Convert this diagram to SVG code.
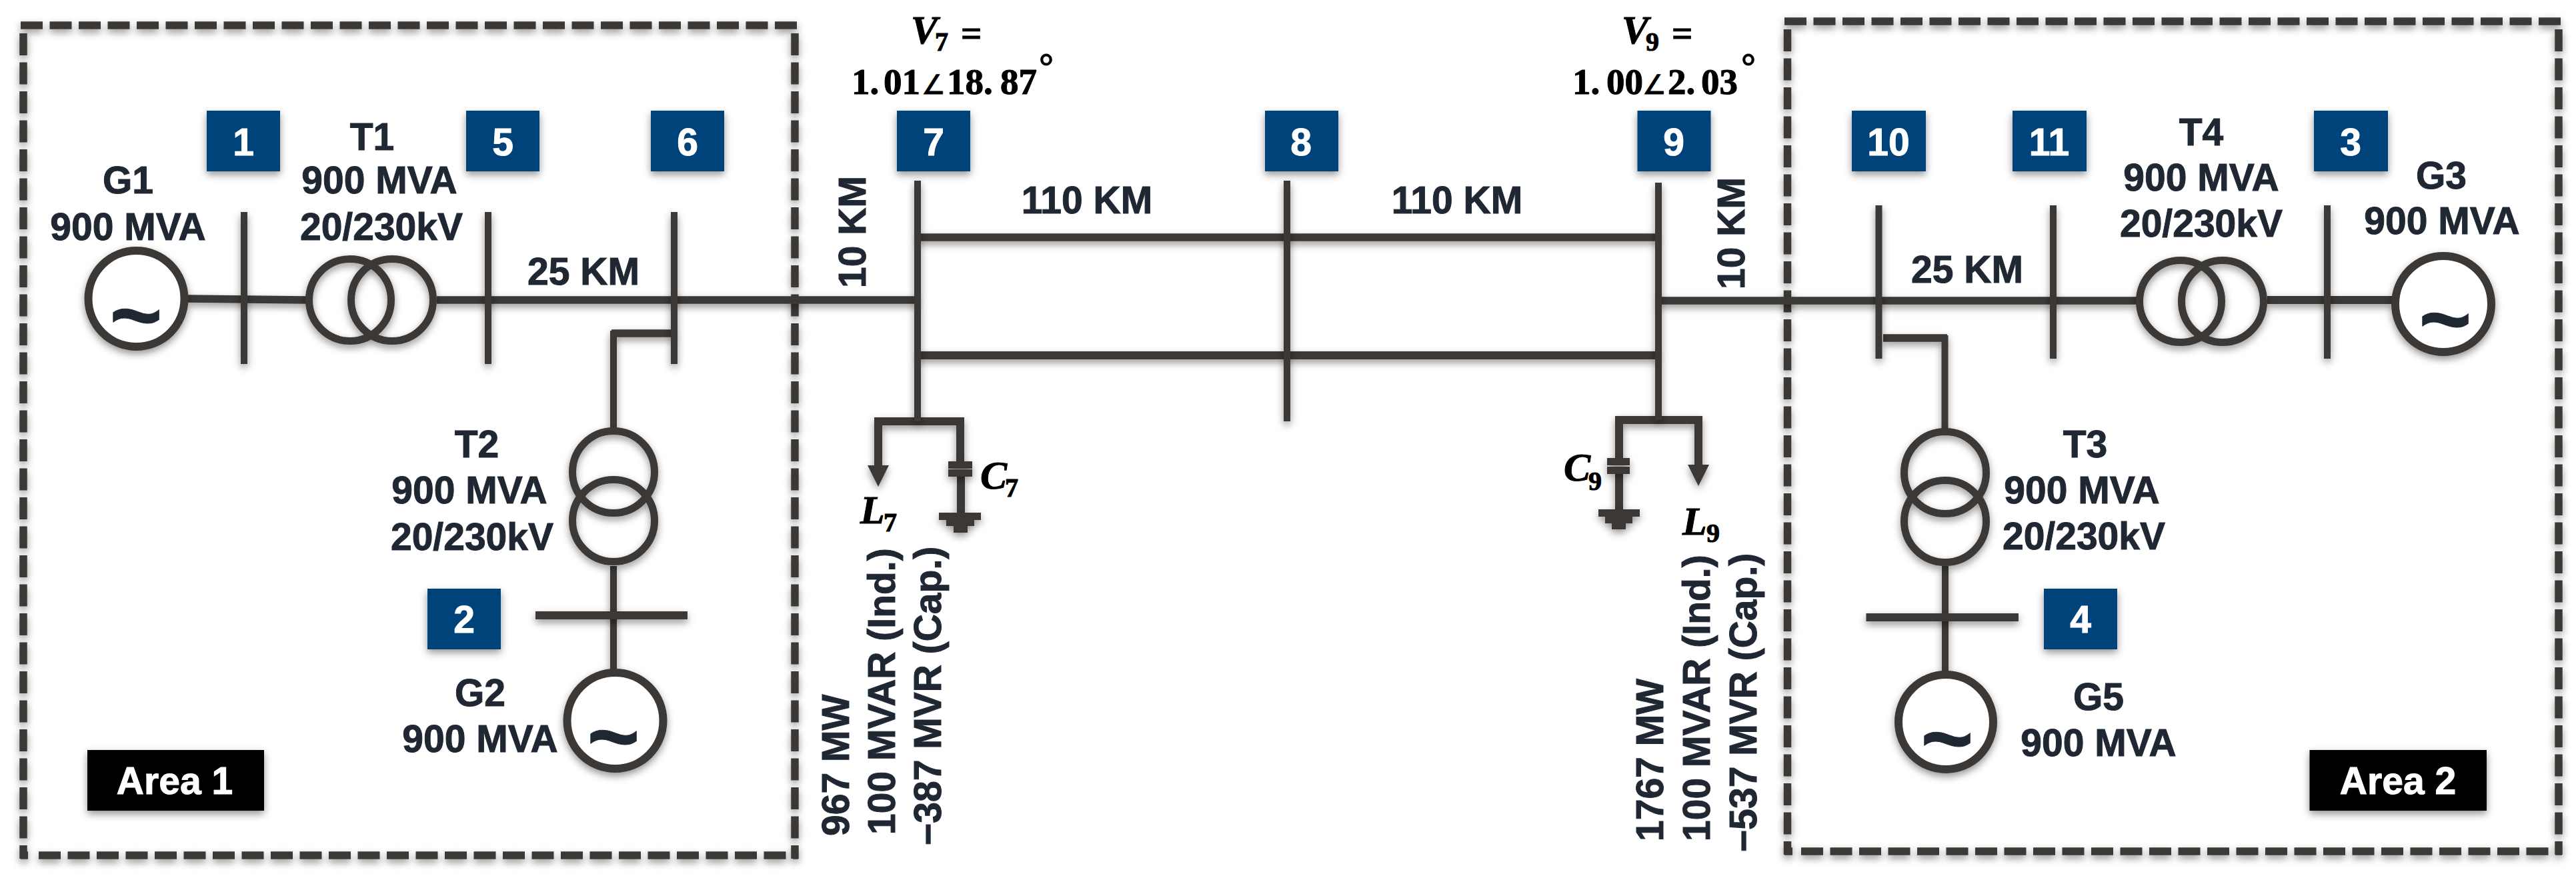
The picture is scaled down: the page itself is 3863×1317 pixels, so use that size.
<svg xmlns="http://www.w3.org/2000/svg" width="3863" height="1317" viewBox="0 0 3863 1317">
<style>
.s{filter:url(#sh)}
.w10{stroke:#3a3836;stroke-width:11.500;fill:none}
.w9{stroke:#3a3836;stroke-width:10;fill:none}
.w11{stroke:#3a3836;stroke-width:12;fill:none}
.ring{stroke:#3a3836;stroke-width:11;fill:none}
.gen{stroke:#3a3836;stroke-width:12;fill:#fff}
.d{stroke:#3a3836;stroke-width:11.500;fill:none;stroke-dasharray:33 10.5}
.p{fill:#3a3836}
.b{fill:#02437a}
.k{fill:#000}
text{font-family:"Liberation Sans",Arial,sans-serif;font-weight:700;font-size:57px;fill:#1f2733;stroke:#1f2733;stroke-width:1}
.c{text-anchor:middle}
text.wt{fill:#fff;stroke:#fff}
.tl{font-size:135px}
text.m{font-family:"Liberation Serif","Times New Roman",serif;fill:#000;stroke:#000;font-size:55px}
.i{font-style:italic;font-size:60px}
.sub{font-size:40px}
.ang{font-family:"DejaVu Sans",sans-serif;font-weight:400;font-size:40px}
.deg{font-size:55px}
</style>
<defs>
<filter id="sh" filterUnits="userSpaceOnUse" x="0" y="0" width="3863" height="1317">
<feDropShadow dx="0" dy="5" stdDeviation="6" flood-color="#000" flood-opacity="0.42"/>
</filter>
<marker id="ah" markerUnits="userSpaceOnUse" markerWidth="34" markerHeight="32" refX="0" refY="16" orient="auto">
<path d="M0 0L32 16L0 32Z" fill="#3a3836"/>
</marker>
</defs>
<rect width="3863" height="1317" fill="#fff"/>

<g id="area-1-border" class="s">
<line class="d" x1="31" y1="38" x2="1197" y2="38"/>
<line class="d" x1="35" y1="50" x2="35" y2="1288"/>
<line class="d" x1="1192" y1="50" x2="1192" y2="1288"/>
<line class="d" x1="58" y1="1283" x2="1197" y2="1283"/>
<line class="w10" x1="31" y1="1283" x2="42" y2="1283"/>
</g>
<g id="area-2-border" class="s">
<line class="d" x1="2676" y1="32" x2="3842" y2="32"/>
<line class="d" x1="2680.5" y1="44" x2="2680.5" y2="1282"/>
<line class="d" x1="3837" y1="44" x2="3837" y2="1282"/>
<line class="d" x1="2701" y1="1277" x2="3842" y2="1277"/>
<line class="w10" x1="2676" y1="1277" x2="2688" y2="1277"/>
</g>

<g id="connectors" class="s">
<line class="w10" x1="282" y1="448" x2="460" y2="450"/>
<line class="w10" x1="655" y1="450" x2="1376" y2="450"/>
<line class="w10" x1="1011" y1="500" x2="917" y2="500"/>
<line class="w9" x1="920" y1="496" x2="920" y2="642"/>
<line class="w9" x1="920" y1="849" x2="920" y2="1004"/>
<line class="w10" x1="1376" y1="356" x2="2487" y2="356"/>
<line class="w11" x1="1376" y1="533" x2="2487" y2="533"/>
<line class="w10" x1="2487" y1="451" x2="3204" y2="451"/>
<line class="w11" x1="3400" y1="450" x2="3588" y2="450"/>
<line class="w10" x1="2824" y1="507" x2="2920" y2="507"/>
<line class="w9" x1="2916.5" y1="503" x2="2916.5" y2="643"/>
<line class="w9" x1="2917" y1="849" x2="2917" y2="1007"/>
<path class="w11" d="M1317 626V632H1446M1317 632V698" marker-end="url(#ah)"/>
<line class="w11" x1="1440" y1="632" x2="1440" y2="692"/>
<line class="w11" x1="1441" y1="715" x2="1441" y2="769"/>
<path class="w11" d="M2422 630H2553M2547 630V697" marker-end="url(#ah)"/>
<line class="w11" x1="2428" y1="624" x2="2428" y2="687"/>
<line class="w11" x1="2428" y1="711" x2="2428" y2="764"/>
</g>

<g id="bus-1" class="s"><line class="w9" x1="366" y1="318" x2="366" y2="546"/></g>
<g id="bus-5" class="s"><line class="w9" x1="732" y1="318" x2="732" y2="546"/></g>
<g id="bus-6" class="s"><line class="w9" x1="1011" y1="318" x2="1011" y2="546"/></g>
<g id="bus-7" class="s"><line class="w9" x1="1376" y1="271" x2="1376" y2="632"/></g>
<g id="bus-8" class="s"><line class="w9" x1="1930" y1="271" x2="1930" y2="632"/></g>
<g id="bus-9" class="s"><line class="w9" x1="2487" y1="274" x2="2487" y2="630"/></g>
<g id="bus-10" class="s"><line class="w9" x1="2817.5" y1="308" x2="2817.5" y2="538"/></g>
<g id="bus-11" class="s"><line class="w9" x1="3079" y1="308" x2="3079" y2="538"/></g>
<g id="bus-3" class="s"><line class="w9" x1="3490" y1="308" x2="3490" y2="538"/></g>
<g id="bus-2" class="s"><line class="w11" x1="803" y1="923" x2="1031" y2="923"/></g>
<g id="bus-4" class="s"><line class="w11" x1="2798.5" y1="926" x2="3027" y2="926"/></g>

<g id="g1"><circle class="gen s" cx="204.5" cy="448" r="72"/><text class="tl c" x="204" y="519">~</text>
<text class="c" x="192" y="290">G1</text><text class="c" x="192" y="360">900 MVA</text></g>
<g id="t1" class="s"><circle class="ring" cx="525" cy="450" r="61.500"/><circle class="ring" cx="588" cy="450" r="61.500"/></g>
<g id="t1-label"><text class="c" x="558" y="225">T1</text><text class="c" x="569" y="290">900 MVA</text><text class="c" x="572" y="360">20/230kV</text></g>
<g id="t2" class="s"><circle class="ring" cx="920" cy="708" r="61.500"/><circle class="ring" cx="920" cy="781" r="61.500"/></g>
<g id="t2-label"><text class="c" x="715" y="686">T2</text><text class="c" x="704" y="755">900 MVA</text><text class="c" x="708" y="825">20/230kV</text></g>
<g id="g2"><circle class="gen s" cx="922.5" cy="1081" r="72"/><text class="tl c" x="920" y="1151">~</text>
<text class="c" x="720" y="1059">G2</text><text class="c" x="720" y="1128">900 MVA</text></g>
<g id="t4" class="s"><circle class="ring" cx="3270" cy="452" r="61.500"/><circle class="ring" cx="3333" cy="452" r="61.500"/></g>
<g id="t4-label"><text class="c" x="3301" y="218">T4</text><text class="c" x="3301" y="286">900 MVA</text><text class="c" x="3301" y="355">20/230kV</text></g>
<g id="g3"><circle class="gen s" cx="3664" cy="456" r="72"/><text class="tl c" x="3667" y="525">~</text>
<text class="c" x="3661" y="283">G3</text><text class="c" x="3662" y="351">900 MVA</text></g>
<g id="t3" class="s"><circle class="ring" cx="2917" cy="709" r="61.500"/><circle class="ring" cx="2917" cy="782" r="61.500"/></g>
<g id="t3-label"><text class="c" x="3127" y="686">T3</text><text class="c" x="3122" y="755">900 MVA</text><text class="c" x="3125" y="824">20/230kV</text></g>
<g id="g5"><circle class="gen s" cx="2918" cy="1083" r="71"/><text class="tl c" x="2920" y="1154">~</text>
<text class="c" x="3147" y="1065">G5</text><text class="c" x="3147" y="1134">900 MVA</text></g>

<g id="badge-1"><rect class="b s" x="310" y="166" width="110" height="91"/><text class="c wt" x="365" y="233">1</text></g>
<g id="badge-5"><rect class="b s" x="699" y="166" width="110" height="91"/><text class="c wt" x="754" y="233">5</text></g>
<g id="badge-6"><rect class="b s" x="976" y="166" width="110" height="91"/><text class="c wt" x="1031" y="233">6</text></g>
<g id="badge-7"><rect class="b s" x="1345" y="166" width="110" height="91"/><text class="c wt" x="1400" y="233">7</text></g>
<g id="badge-8"><rect class="b s" x="1897" y="166" width="110" height="91"/><text class="c wt" x="1951" y="233">8</text></g>
<g id="badge-9"><rect class="b s" x="2455.500" y="166" width="110" height="91"/><text class="c wt" x="2510" y="233">9</text></g>
<g id="badge-10"><rect class="b s" x="2777" y="166" width="111" height="91"/><text class="c wt" x="2832" y="233">10</text></g>
<g id="badge-11"><rect class="b s" x="3018" y="166" width="111" height="91"/><text class="c wt" x="3073" y="233">11</text></g>
<g id="badge-3"><rect class="b s" x="3470" y="166" width="111" height="91"/><text class="c wt" x="3525" y="233">3</text></g>
<g id="badge-2"><rect class="b s" x="641" y="883" width="110" height="91"/><text class="c wt" x="696" y="949">2</text></g>
<g id="badge-4"><rect class="b s" x="3065" y="883" width="110" height="91"/><text class="c wt" x="3120" y="949">4</text></g>
<g id="area-1-label"><rect class="k s" x="131" y="1125" width="265" height="91"/><text class="c wt" x="262" y="1191">Area 1</text></g>
<g id="area-2-label"><rect class="k s" x="3463.500" y="1125" width="265.500" height="91"/><text class="c wt" x="3596" y="1191">Area 2</text></g>

<g id="c7" class="s">
<rect class="p" x="1422" y="692" width="36" height="11"/><rect class="p" x="1422" y="704" width="36" height="11"/>
<rect class="p" x="1408" y="769" width="63" height="11"/><rect class="p" x="1419" y="780" width="42" height="9"/><rect class="p" x="1430" y="789" width="21" height="10"/>
</g>
<g id="c9" class="s">
<rect class="p" x="2410" y="687" width="34" height="11"/><rect class="p" x="2410" y="700" width="34" height="11"/>
<rect class="p" x="2397" y="764" width="62" height="11"/><rect class="p" x="2407" y="775" width="41" height="10"/><rect class="p" x="2417" y="785" width="21" height="9"/>
</g>

<g id="line-labels">
<text class="c" x="875" y="427">25 KM</text>
<text class="c" x="2950" y="424">25 KM</text>
<text class="c" x="1630" y="320">110 KM</text>
<text class="c" x="2185" y="320">110 KM</text>
<text transform="translate(1298 432) rotate(-90)">10 KM</text>
<text transform="translate(2616 434) rotate(-90)">10 KM</text>
</g>
<g id="load-7">
<text class="m" x="1290" y="785"><tspan class="i">L</tspan><tspan class="sub" x="1325" y="797">7</tspan></text>
<text class="m" x="1470" y="733"><tspan class="i">C</tspan><tspan class="sub" x="1507" y="745">7</tspan></text>
<text transform="translate(1273 1254) rotate(-90)">967 MW</text>
<text transform="translate(1342 1252) rotate(-90)">100 MVAR (Ind.)</text>
<text transform="translate(1411 1268) rotate(-90)">−387 MVR (Cap.)</text>
</g>
<g id="load-9">
<text class="m" x="2523" y="802"><tspan class="i">L</tspan><tspan class="sub" x="2559" y="813">9</tspan></text>
<text class="m" x="2345" y="721"><tspan class="i">C</tspan><tspan class="sub" x="2382" y="735">9</tspan></text>
<text transform="translate(2494 1262) rotate(-90)">1767 MW</text>
<text transform="translate(2564 1262) rotate(-90)">100 MVAR (Ind.)</text>
<text transform="translate(2634 1278) rotate(-90)">−537 MVR (Cap.)</text>
</g>
<g id="voltage-7">
<text class="m" x="1366" y="65"><tspan class="i">V</tspan><tspan class="sub" x="1402" y="76">7</tspan><tspan x="1441" y="68">=</tspan></text>
<text class="m" y="141"><tspan x="1277">1.</tspan><tspan x="1325">01</tspan><tspan class="ang" x="1382">∠</tspan><tspan x="1420">18.</tspan><tspan x="1500">87</tspan><tspan class="deg" x="1558" y="118">°</tspan></text>
</g>
<g id="voltage-9">
<text class="m" x="2432" y="65"><tspan class="i">V</tspan><tspan class="sub" x="2468" y="76">9</tspan><tspan x="2507" y="68">=</tspan></text>
<text class="m" y="141"><tspan x="2358">1.</tspan><tspan x="2409">00</tspan><tspan class="ang" x="2463">∠</tspan><tspan x="2501">2.</tspan><tspan x="2551">03</tspan><tspan class="deg" x="2611" y="118">°</tspan></text>
</g>
</svg>
